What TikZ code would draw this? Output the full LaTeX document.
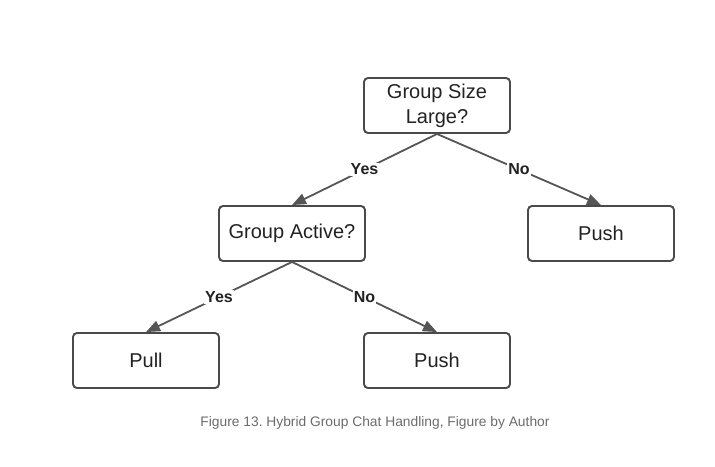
\documentclass[tikz,border=0pt]{standalone}
\usepackage{fontspec}
\setmainfont{Liberation Sans}
\usetikzlibrary{positioning, arrows.meta}
\definecolor{boxline}{HTML}{4A4A4A}
\definecolor{edgeline}{HTML}{555555}
\definecolor{textcol}{HTML}{222222}
\definecolor{captioncol}{HTML}{6B6B6B}

\begin{document}
\frenchspacing
\begin{tikzpicture}[x=1pt, y=-1pt, node distance=128pt and 145pt, on grid,
    decision/.style={draw=boxline, line width=1.9pt, rounded corners=4pt,
      minimum width=146pt, minimum height=55pt, align=center,
      font=\fontsize{20}{25}\selectfont, text=textcol},
    choice/.style={fill=white, inner sep=1pt, text=textcol,
      font=\bfseries\fontsize{16}{18}\selectfont},
    every edge/.style={draw=edgeline, line width=1.8pt,
      -{Triangle[length=14pt, width=11pt]}}]
   \useasboundingbox (0,0) rectangle (715,466);
   \node[decision] (size) at (437,105.5) {Group Size\\Large?};
   \node[decision] (active) [below left=of size] {Group Active?};
   \node[decision] (push_a) [below right=128pt and 164pt of size] {Push};
   \node[decision] (pull) [below left=127pt and 146pt of active] {Pull};
   \node[decision] (push_b) [below right=127pt and 145pt of active] {Push};
   \path
    (size.south) edge node[choice] {Yes} (active.north)
    (size.south) edge node[choice] {No} (push_a.north)
    (active.south) edge node[choice] {Yes} (pull.north)
    (active.south) edge node[choice] {No} (push_b.north)
    ;
   \node[text=captioncol, font=\fontsize{13.8}{16}\selectfont] (caption) at (375,423)
     {Figure 13. Hybrid Group Chat Handling, Figure by Author};
\end{tikzpicture}
\end{document}
